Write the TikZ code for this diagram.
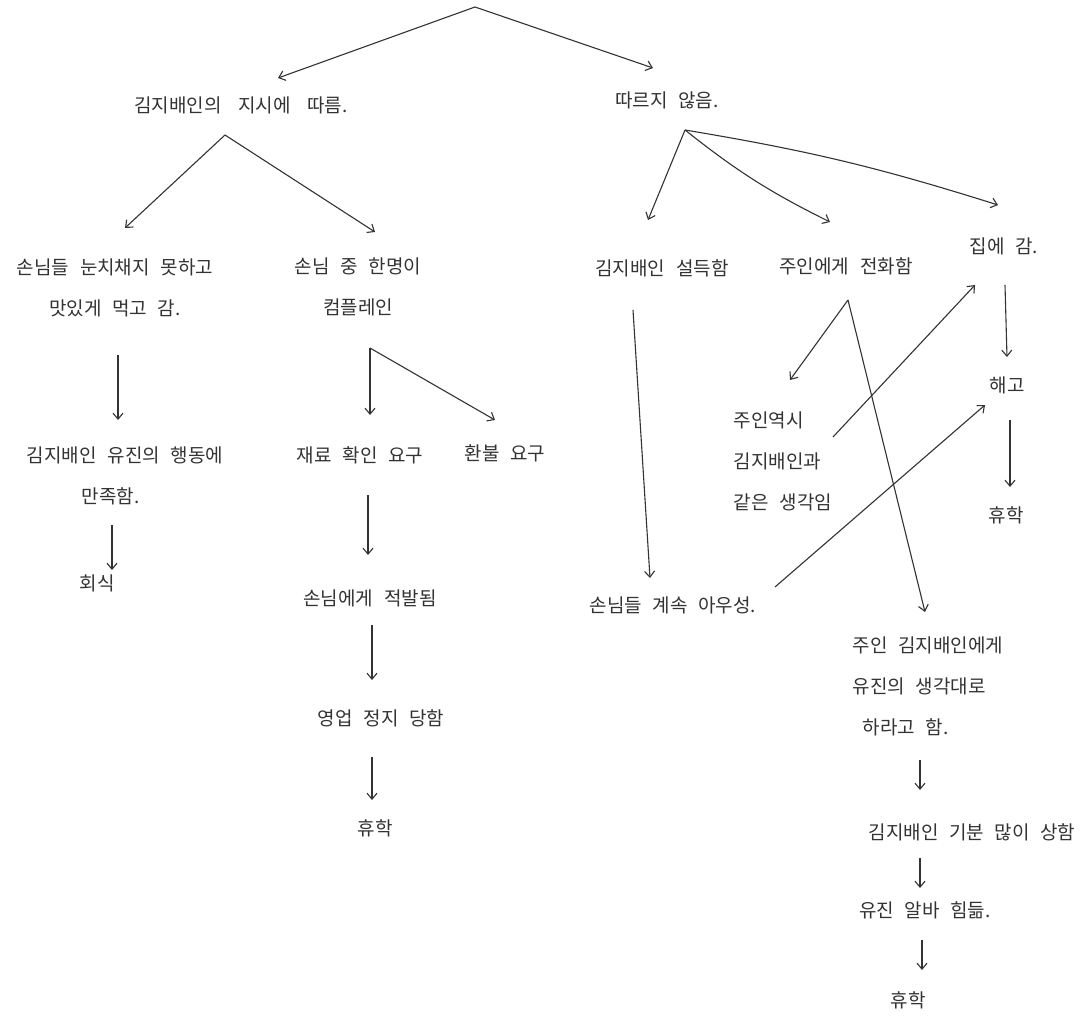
\documentclass[tikz,border=0pt]{standalone}
\usepackage{fontspec}
\newfontfamily\kr[WordSpace=2.5]{Noto Sans CJK KR}
\usetikzlibrary{arrows.meta,calc}
\definecolor{ink}{HTML}{333333}
\tikzset{
  lbl/.style={font=\kr\fontsize{19}{41}\selectfont, text=ink, inner sep=0pt},
  arr/.style={draw=ink, line width=1.1pt, -{Straight Barb[length=6pt,width=10pt]}},
  ln/.style={draw=ink, line width=1.1pt}
}
\begin{document}
\begin{tikzpicture}[x=1pt,y=-1pt]
\useasboundingbox[fill=white] (0,0) rectangle (1088,1019);
\coordinate (root) at (475,7);
% left branch
\node[lbl] (L1) at (241,105) {김지배인의 \hspace{6pt}지시에 \hspace{6pt}따름.};
\node[lbl] (R1) at (667,100) {따르지 않음.};
\node[lbl,align=center] (L2a) at (115,288) {손님들 눈치채지 못하고\\맛있게 먹고 감.};
\node[lbl,align=center] (L2b) at (358,287) {손님 중 한명이\\컴플레인};
\node[lbl,align=left] (L3a) at (125,476) {김지배인 유진의 행동에\\\hspace*{55pt}만족함.};
\node[lbl] (hs) at (97,583) {회식};
\node[lbl] (J) at (360,455) {재료 확인 요구};
\node[lbl] (H) at (505,453) {환불 요구};
\node[lbl] (C) at (370,598) {손님에게 적발됨};
\node[lbl] (Y) at (381,718) {영업 정지 당함};
\node[lbl] (HL) at (375,828) {휴학};
% right branch
\node[lbl] (S) at (662,268) {김지배인 설득함};
\node[lbl] (P) at (846,266) {주인에게 전화함};
\node[lbl] (G) at (1004,246) {집에 감.};
\node[lbl] (F) at (1007,385) {해고};
\node[lbl] (HR1) at (1006,515) {휴학};
\node[lbl,align=left] (O) at (783,461) {주인역시\\김지배인과\\같은 생각임};
\node[lbl] (A) at (673,605) {손님들 계속 아우성.};
\node[lbl,align=left] (K) at (928,686) {주인 김지배인에게\\유진의 생각대로\\\hspace*{10pt}하라고 함.};
\node[lbl] (M) at (972,832) {김지배인 기분 많이 상함};
\node[lbl] (B) at (925,910) {유진 알바 힘듦.};
\node[lbl] (HR2) at (908,1000) {휴학};
% connectors
\draw[arr] (root) -- ($(L1)+(37,-27)$);
\draw[arr] (root) -- ($(R1)+(-14,-32)$);
\coordinate (l1s) at ($(L1)+(-16,30)$);
\draw[arr] (l1s) -- ($(L2a)+(10,-60)$);
\draw[arr] (l1s) -- ($(L2b)+(17,-55)$);
\draw[arr] ($(L2a)+(3,67)$) -- ($(L3a)+(-7,-56)$);
\draw[arr] ($(L3a)+(-13,49)$) -- ($(hs)+(15,-13)$);
\coordinate (b1) at ($(L2b)+(12,61)$);
\draw[arr] (b1) -- ($(J)+(10,-40)$);
\draw[arr] (b1) -- ($(H)+(-10,-33)$);
\draw[arr] ($(J)+(8,40)$) -- ($(C)+(-2,-43)$);
\draw[arr] ($(C)+(2,27)$) -- ($(Y)+(-9,-38)$);
\draw[arr] ($(Y)+(-9,39)$) -- ($(HL)+(-3,-28)$);
\coordinate (r1s) at ($(R1)+(18,30)$);
\draw[arr] (r1s) -- ($(S)+(-14,-48)$);
\draw[arr] (r1s) to[bend right=6] ($(P)+(-16,-44)$);
\draw[arr] (r1s) to[bend left=4] ($(G)+(-6,-41)$);
\draw[arr] ($(S)+(-29,42)$) -- ($(A)+(-23,-27)$);
\draw[arr] ($(A)+(102,-18)$) -- ($(F)+(-22,20)$);
\coordinate (ps) at ($(P)+(2,34)$);
\draw[arr] (ps) -- ($(O)+(7,-81)$);
\draw[arr] (ps) -- ($(K)+(-3,-74)$);
\draw[arr] ($(O)+(50,-24)$) -- ($(G)+(-29,39)$);
\draw[arr] ($(G)+(1,39)$) -- ($(F)+(0,-28)$);
\draw[arr] ($(F)+(3,35)$) -- ($(HR1)+(4,-28)$);
\draw[arr] ($(K)+(-8,74)$) -- ($(M)+(-52,-42)$);
\draw[arr] ($(M)+(-52,26)$) -- ($(B)+(-5,-22)$);
\draw[arr] ($(B)+(-3,30)$) -- ($(HR2)+(14,-30)$);
\end{tikzpicture}
\end{document}
